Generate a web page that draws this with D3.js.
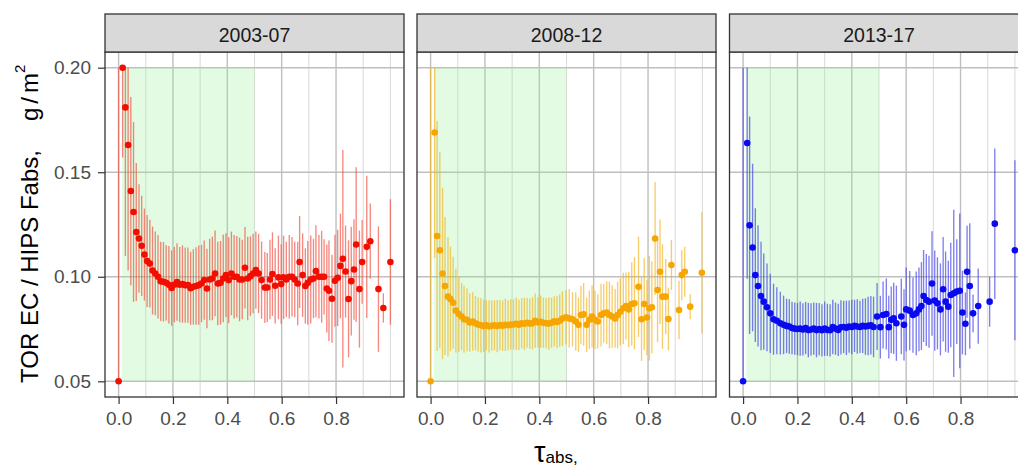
<!DOCTYPE html>
<html><head><meta charset="utf-8">
<script src="https://cdn.jsdelivr.net/npm/d3@7"></script>
<style>
body{margin:0;background:#fff}
svg{display:block;font-family:"Liberation Sans",Arial,sans-serif}
</style>
</head><body>
<svg id="chart" width="1018" height="468"></svg>
<script>
// ---------- data ----------
const panels = ["2003-07", "2008-12", "2013-17"];
const pointColors = ["#f20d00", "#f7a500", "#0a0af0"];
const barColors = ["#f04a3a", "#f2b21c", "#3a3ae6"];

const tau1 = [0,0.015,0.025,0.035,0.045,0.055,0.065,0.075,0.085,0.095,0.105,0.115,0.125,0.135,0.145,0.155,0.165,0.175,0.185,0.195,0.205,0.215,0.225,0.235,0.245,0.255,0.265,0.275,0.285,0.295,0.305,0.315,0.325,0.335,0.345,0.355,0.365,0.375,0.385,0.395,0.405,0.415,0.425,0.435,0.445,0.455,0.465,0.475,0.485,0.495,0.505,0.515,0.526,0.538,0.547,0.557,0.566,0.576,0.588,0.598,0.607,0.617,0.628,0.638,0.648,0.659,0.666,0.677,0.687,0.696,0.707,0.717,0.726,0.737,0.747,0.756,0.766,0.774,0.785,0.796,0.806,0.816,0.825,0.835,0.846,0.856,0.866,0.874,0.886,0.896,0.913,0.926,0.956,0.974,1.0];
const mean1 = [0.05,0.200,0.181,0.163,0.141,0.131,0.1214,0.1183,0.1148,0.1106,0.1075,0.1063,0.1030,0.1016,0.1000,0.0978,0.0976,0.0971,0.0962,0.0946,0.0962,0.0975,0.0962,0.0965,0.0960,0.0960,0.0945,0.0952,0.0956,0.0960,0.0968,0.0984,0.0944,0.0987,0.0992,0.1016,0.0968,0.0971,0.0992,0.1008,0.0984,0.1016,0.1000,0.1000,0.0987,0.0987,0.1043,0.0992,0.1003,0.1016,0.1032,0.1016,0.0984,0.0949,0.0949,0.0987,0.1013,0.0957,0.0997,0.0965,0.0997,0.0987,0.1000,0.1000,0.0987,0.0968,0.1071,0.1008,0.0956,0.0971,0.0987,0.0992,0.1027,0.1000,0.1000,0.1000,0.0944,0.0933,0.0895,0.0981,0.0995,0.1052,0.1086,0.1025,0.0894,0.0979,0.1035,0.1154,0.0941,0.1071,0.1143,0.1170,0.0941,0.0851,0.1071];
const err1 = [0.15,0.043,0.071,0.06,0.045,0.043,0.033,0.026,0.024,0.022,0.022,0.021,0.021,0.020,0.020,0.019,0.019,0.018,0.0185,0.018,0.018,0.0185,0.018,0.0185,0.018,0.018,0.0175,0.018,0.0185,0.019,0.0185,0.019,0.019,0.0195,0.020,0.0205,0.020,0.020,0.021,0.020,0.0205,0.020,0.020,0.0195,0.020,0.019,0.0195,0.020,0.019,0.019,0.0185,0.019,0.0185,0.017,0.0165,0.019,0.020,0.018,0.020,0.019,0.020,0.018,0.020,0.019,0.018,0.020,0.022,0.020,0.018,0.020,0.021,0.019,0.022,0.020,0.022,0.018,0.021,0.024,0.021,0.022,0.023,0.025,0.052,0.022,0.028,0.026,0.024,0.037,0.028,0.020,0.034,0.018,0.030,0.007,0.030];

const tau2 = [0,0.015,0.024,0.034,0.044,0.053,0.064,0.073,0.083,0.093,0.104,0.114,0.123,0.134,0.144,0.155,0.165,0.175,0.185,0.195,0.205,0.215,0.225,0.235,0.245,0.255,0.265,0.275,0.285,0.295,0.305,0.315,0.325,0.335,0.345,0.355,0.365,0.375,0.385,0.395,0.405,0.415,0.425,0.435,0.445,0.455,0.465,0.475,0.485,0.498,0.510,0.522,0.534,0.544,0.553,0.563,0.574,0.584,0.594,0.605,0.615,0.627,0.637,0.648,0.658,0.668,0.679,0.688,0.698,0.709,0.719,0.729,0.740,0.750,0.765,0.776,0.786,0.796,0.805,0.814,0.826,0.835,0.844,0.853,0.865,0.875,0.886,0.914,0.924,0.935,0.955,0.998];
const mean2 = [0.05,0.169,0.1195,0.1127,0.1016,0.0956,0.0905,0.0894,0.0876,0.0838,0.0822,0.0810,0.0797,0.0794,0.0781,0.0786,0.0778,0.0772,0.0768,0.0765,0.0768,0.0763,0.0766,0.0768,0.0764,0.0769,0.0766,0.0770,0.0768,0.0772,0.0772,0.0775,0.0770,0.0778,0.0775,0.0780,0.0776,0.0778,0.0790,0.0782,0.0785,0.0780,0.0778,0.0776,0.0780,0.0787,0.0784,0.0790,0.0800,0.0806,0.0801,0.0797,0.0786,0.0770,0.0817,0.0820,0.0770,0.0794,0.0810,0.0794,0.0786,0.0817,0.0825,0.0829,0.0817,0.0810,0.0801,0.0817,0.0833,0.0849,0.0860,0.0844,0.0870,0.0873,0.0952,0.0797,0.0870,0.0805,0.0849,0.0854,0.1183,0.0937,0.1024,0.0905,0.0905,0.0798,0.1056,0.0841,0.1008,0.1024,0.0857,0.1019];
const err2 = [0.15,0.06,0.055,0.047,0.041,0.033,0.0285,0.025,0.022,0.020,0.018,0.016,0.016,0.015,0.014,0.014,0.013,0.013,0.013,0.0125,0.012,0.0125,0.012,0.012,0.0125,0.012,0.012,0.0125,0.012,0.012,0.012,0.0125,0.012,0.012,0.0125,0.012,0.012,0.0125,0.013,0.012,0.0125,0.012,0.012,0.0125,0.012,0.012,0.0125,0.0125,0.013,0.013,0.014,0.013,0.014,0.013,0.014,0.015,0.013,0.014,0.015,0.014,0.013,0.015,0.014,0.015,0.016,0.015,0.014,0.016,0.016,0.017,0.016,0.018,0.020,0.022,0.024,0.020,0.022,0.018,0.025,0.022,0.027,0.025,0.025,0.025,0.018,0.015,0.012,0.014,0.012,0.012,0.006,0.029];

const tau3 = [0,0.015,0.024,0.035,0.045,0.055,0.066,0.076,0.088,0.100,0.112,0.124,0.137,0.149,0.160,0.170,0.180,0.190,0.200,0.210,0.220,0.230,0.240,0.250,0.260,0.270,0.280,0.290,0.300,0.310,0.320,0.330,0.340,0.350,0.360,0.370,0.380,0.390,0.400,0.410,0.420,0.430,0.440,0.450,0.460,0.470,0.480,0.493,0.505,0.515,0.527,0.536,0.545,0.554,0.564,0.582,0.592,0.600,0.613,0.625,0.637,0.647,0.656,0.664,0.674,0.684,0.695,0.705,0.715,0.726,0.736,0.745,0.755,0.764,0.775,0.786,0.797,0.807,0.818,0.824,0.834,0.846,0.865,0.907,0.926,1.0];
const mean3 = [0.05,0.164,0.1246,0.1140,0.1008,0.0956,0.0908,0.0881,0.0854,0.0825,0.0797,0.0790,0.0778,0.0770,0.0765,0.0762,0.0755,0.0752,0.0750,0.0752,0.0748,0.0755,0.0745,0.0748,0.0752,0.0745,0.0750,0.0744,0.0752,0.0746,0.0744,0.0760,0.0752,0.0746,0.0758,0.0760,0.0756,0.0762,0.0760,0.0765,0.0762,0.0760,0.0765,0.0762,0.0765,0.0768,0.0760,0.0810,0.0759,0.0817,0.0822,0.0759,0.0794,0.0801,0.0778,0.0810,0.0770,0.0844,0.0838,0.0817,0.0825,0.0844,0.0860,0.0908,0.0889,0.0881,0.0968,0.0886,0.0873,0.0844,0.0940,0.0881,0.0857,0.0913,0.0921,0.0929,0.0933,0.0829,0.0775,0.1024,0.0956,0.0825,0.0860,0.0881,0.1254,0.1127];
const err3 = [0.15,0.065,0.052,0.040,0.032,0.029,0.026,0.023,0.021,0.019,0.017,0.016,0.015,0.014,0.013,0.013,0.0125,0.0125,0.0125,0.013,0.0125,0.0125,0.013,0.0125,0.0125,0.013,0.0125,0.0125,0.013,0.0125,0.0125,0.013,0.0125,0.0125,0.013,0.0125,0.013,0.0125,0.013,0.0125,0.013,0.0125,0.013,0.0135,0.014,0.014,0.0145,0.016,0.015,0.016,0.017,0.015,0.016,0.017,0.018,0.018,0.017,0.020,0.019,0.018,0.020,0.020,0.021,0.022,0.022,0.022,0.025,0.024,0.022,0.022,0.025,0.024,0.022,0.025,0.040,0.025,0.037,0.020,0.015,0.022,0.030,0.009,0.018,0.012,0.036,0.043];

const xMajor = [0, 0.2, 0.4, 0.6, 0.8];
const xMinor = [0.1, 0.3, 0.5, 0.7, 0.9, 1.0];
const yMajor = [0.05, 0.10, 0.15, 0.20];
const shadeTau = [0.012, 0.5];
const shadeVal = [0.05, 0.20];

// ---------- layout ----------
const svg = d3.select("#chart");
const panelLeft = [105, 417, 729.5];
const panelW = 299, pTop = 52, pBottom = 397, stripTop = 14;
const series = [
  {tau: tau1, mean: mean1, err: err1},
  {tau: tau2, mean: mean2, err: err2},
  {tau: tau3, mean: mean3, err: err3}
];
const y = d3.scaleLinear().domain([0.0425, 0.2075]).range([pBottom, pTop]);
const clampV = v => Math.max(shadeVal[0], Math.min(shadeVal[1], v));

svg.append("defs").selectAll("clipPath").data(panels).join("clipPath")
  .attr("id", (d, i) => "clip" + i)
  .append("rect").attr("x", (d, i) => panelLeft[i]).attr("y", pTop)
  .attr("width", panelW).attr("height", pBottom - pTop);

panels.forEach((name, i) => {
  const x = d3.scaleLinear().domain([-0.05, 1.05]).range([panelLeft[i], panelLeft[i] + panelW]);
  const s = series[i];
  const g = svg.append("g");
  const inner = g.append("g").attr("clip-path", `url(#clip${i})`);
  inner.append("rect").attr("x", panelLeft[i]).attr("y", pTop).attr("width", panelW).attr("height", pBottom - pTop).attr("fill", "#fff");
  inner.selectAll(".vmin").data(xMinor).join("line")
    .attr("x1", d => x(d)).attr("x2", d => x(d)).attr("y1", pTop).attr("y2", pBottom)
    .attr("stroke", "#dcdcdc").attr("stroke-width", 1.1);
  inner.selectAll(".vmaj").data(xMajor).join("line")
    .attr("x1", d => x(d)).attr("x2", d => x(d)).attr("y1", pTop).attr("y2", pBottom)
    .attr("stroke", "#bfbfbf").attr("stroke-width", 1.4);
  inner.selectAll(".hmaj").data(yMajor).join("line")
    .attr("x1", panelLeft[i]).attr("x2", panelLeft[i] + panelW).attr("y1", d => y(d)).attr("y2", d => y(d))
    .attr("stroke", "#bfbfbf").attr("stroke-width", 1.4);
  inner.append("rect")
    .attr("x", x(shadeTau[0])).attr("width", x(shadeTau[1]) - x(shadeTau[0]))
    .attr("y", y(shadeVal[1])).attr("height", y(shadeVal[0]) - y(shadeVal[1]))
    .attr("fill", "#90ee90").attr("fill-opacity", 0.25);
  inner.selectAll(".bar").data(s.tau).join("line")
    .attr("x1", d => x(d)).attr("x2", d => x(d))
    .attr("y1", (d, k) => y(clampV(s.mean[k] - s.err[k])))
    .attr("y2", (d, k) => y(clampV(s.mean[k] + s.err[k])))
    .attr("stroke", barColors[i]).attr("stroke-width", 1.35).attr("stroke-opacity", 0.65);
  inner.selectAll(".pt").data(s.tau).join("circle")
    .attr("cx", d => x(d)).attr("cy", (d, k) => y(s.mean[k])).attr("r", 3.3)
    .attr("fill", pointColors[i]);
  g.append("rect").attr("x", panelLeft[i]).attr("y", pTop).attr("width", panelW).attr("height", pBottom - pTop)
    .attr("fill", "none").attr("stroke", "#333").attr("stroke-width", 1.3);
  g.append("rect").attr("x", panelLeft[i]).attr("y", stripTop).attr("width", panelW).attr("height", pTop - stripTop)
    .attr("fill", "#d9d9d9").attr("stroke", "#333").attr("stroke-width", 1.3);
  g.append("text").attr("x", panelLeft[i] + panelW / 2).attr("y", 41.5)
    .attr("text-anchor", "middle").attr("font-size", 19.5).attr("fill", "#1a1a1a").text(name);
  const ax = svg.append("g").attr("transform", `translate(0,${pBottom})`)
    .call(d3.axisBottom(x).tickValues(xMajor).tickFormat(d3.format(".1f")).tickSize(7).tickPadding(8));
  ax.select(".domain").remove();
  ax.selectAll(".tick line").attr("stroke", "#333").attr("stroke-width", 1.2);
  ax.selectAll(".tick text").attr("fill", "#4d4d4d").attr("font-size", 19)
    .attr("font-family", '"Liberation Sans",Arial,sans-serif');
});

const ay = svg.append("g").attr("transform", `translate(${panelLeft[0]},0)`)
  .call(d3.axisLeft(y).tickValues(yMajor).tickFormat(d3.format(".2f")).tickSize(7).tickPadding(7));
ay.select(".domain").remove();
ay.selectAll(".tick line").attr("stroke", "#333").attr("stroke-width", 1.2);
ay.selectAll(".tick text").attr("fill", "#4d4d4d").attr("font-size", 19)
  .attr("font-family", '"Liberation Sans",Arial,sans-serif');

const yt = svg.append("g").attr("transform", "translate(38,383) rotate(-90)");
yt.append("text").attr("x", 0).attr("y", 0).attr("font-size", 24).attr("fill", "#000").text("TOR EC / HIPS Fabs,");
const yt2 = yt.append("text").attr("x", 262).attr("y", 0).attr("font-size", 24).attr("fill", "#000");
yt2.append("tspan").text("g");
yt2.append("tspan").attr("dx", 4).text("/");
yt2.append("tspan").attr("dx", 4).text("m");
yt2.append("tspan").attr("dy", -13).attr("font-size", 15).text("2");

const xt = svg.append("text").attr("x", 534).attr("y", 462).attr("fill", "#000");
xt.append("tspan").attr("font-size", 29).text("τ");
xt.append("tspan").attr("font-size", 17).attr("dy", 1).text("abs,");
</script>
</body></html>
